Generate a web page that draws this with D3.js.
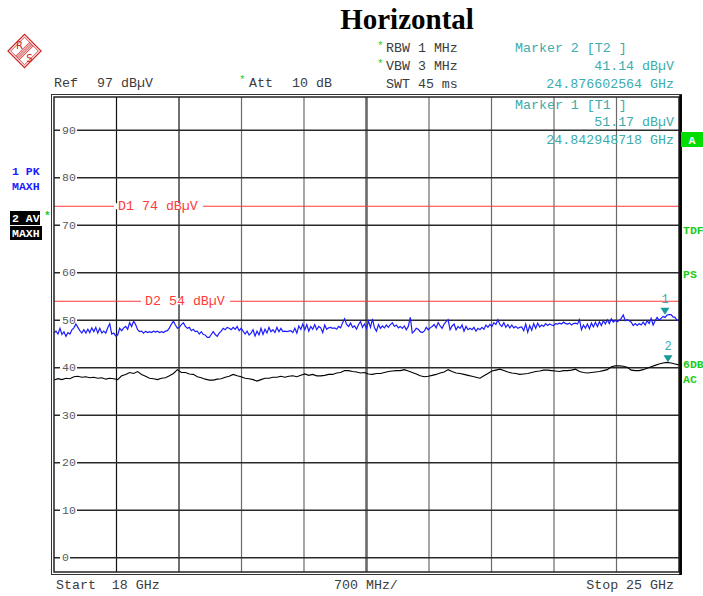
<!DOCTYPE html>
<html>
<head>
<meta charset="utf-8">
<script src="https://cdn.jsdelivr.net/npm/d3@7"></script>
<style>
body { margin: 0; background: #fff; }
svg text { font-family: "Liberation Mono", "DejaVu Sans Mono", monospace; }
</style>
</head>
<body>
<div class="container"></div>
<script>
const WIDTH = 703;
const HEIGHT = 596;
const LEFT = 54, RIGHT = 679, TOP = 97, BOTTOM = 572;

// sweep and level range of the screen
const START_GHZ = 18;
const STOP_GHZ = 25;
const REF_LEVEL = 97;
const BOTTOM_LEVEL = -3;

var gridLevels = [0, 10, 20, 30, 40, 50, 60, 70, 80, 90];
var gridDivisions = [0, 1, 2, 3, 4, 5, 6, 7, 8, 9, 10];

var limitNames = ['D1', 'D2'];
var limitLevels = [74, 54];

var markerNames = ['1', '2'];
var markerFreqs = [24.842948718, 24.876602564];
var markerLevels = [51.17, 41.14];

// trace 1 : peak, max hold (dBµV), evenly spread from start to stop
var pkTrace = [
    47.3, 47.7, 47.1, 48.3, 47.0, 47.6, 46.6, 47.4, 47.1, 48.0, 48.4, 49.2, 48.5, 47.8, 47.3, 48.0,
    47.3, 48.1, 47.4, 48.4, 47.6, 48.5, 47.3, 48.3, 47.3, 47.7, 47.3, 48.4, 49.3, 47.1, 47.3, 46.7,
    46.9, 48.3, 47.8, 48.4, 48.7, 48.1, 49.5, 48.7, 49.8, 49.1, 48.0, 47.6, 47.7, 47.3, 47.7, 47.4,
    47.6, 47.4, 47.7, 47.5, 47.7, 47.4, 47.6, 47.4, 47.7, 47.8, 48.4, 49.2, 49.8, 49.0, 48.3, 48.5,
    49.1, 49.5, 48.7, 48.3, 48.5, 47.8, 48.1, 47.6, 47.7, 47.1, 47.6, 47.0, 46.9, 46.4, 46.4,
    47.0, 47.6, 47.0, 46.6, 47.3, 47.7, 48.3, 48.0, 48.5, 48.3, 48.0, 48.5, 48.1, 48.7, 47.8, 48.3,
    47.7, 47.1, 47.7, 46.9, 47.3, 48.0, 46.7, 47.7, 46.9, 48.3, 47.0, 48.1, 47.3, 48.5, 47.6, 48.0,
    47.4, 48.5, 47.6, 48.3, 47.6, 47.7, 47.6, 47.7, 47.8, 47.4, 48.3, 47.3, 48.8, 48.1, 49.2, 48.0,
    49.1, 47.7, 48.7, 48.1, 49.1, 48.0, 48.7, 48.4, 47.4, 49.0, 48.1, 48.4, 48.5, 48.3, 48.4, 48.1,
    48.7, 48.4, 49.5, 50.3, 49.1, 48.7, 49.4, 48.5, 48.8, 48.1, 49.1, 49.7, 48.5,
    49.2, 48.3, 49.8, 48.5, 50.3, 48.4, 47.7, 49.1, 48.3, 48.8, 48.4, 49.0, 48.5, 49.1, 49.5, 48.7,
    49.0, 48.4, 48.7, 48.3, 48.8, 48.0, 48.7, 50.6, 47.3, 47.7, 48.3, 48.1, 47.6, 47.4, 47.7, 48.5,
    48.0, 48.4, 48.7, 49.1, 48.4, 49.5, 48.8, 48.3, 49.2, 49.7, 50.1, 48.0, 48.8, 49.2, 48.0, 48.7,
    48.3, 49.0, 47.7, 48.7, 48.0, 48.3, 48.0, 48.5, 47.7, 48.3, 48.0, 48.5, 48.1, 49.0, 48.5, 49.1,
    48.7, 49.5, 49.1, 50.1, 49.1, 48.7, 49.5, 48.5, 49.1, 48.4, 49.0, 48.4, 48.7, 48.3, 48.5,
    48.6, 47.8, 49.2, 47.5, 48.9, 47.9, 49.3, 48.3, 49.4, 48.6, 49.0, 48.7, 49.3, 48.9, 49.2, 49.0,
    48.9, 49.3, 49.2, 49.4, 49.2, 49.6, 49.3, 49.2, 49.4, 49.0, 49.3, 49.4, 49.2, 50.1, 48.0, 49.0,
    48.3, 49.2, 48.2, 49.4, 48.6, 49.6, 48.7, 49.7, 48.9, 49.9, 49.2, 50.1, 49.3, 50.3, 49.6, 50.0,
    49.7, 50.0, 50.4, 51.1, 49.9, 50.1, 49.9, 49.6, 48.9, 49.3, 48.9, 49.3, 49.0, 49.6, 49.0, 49.9,
    49.3, 50.4, 49.0, 49.9, 50.6, 50.0, 50.4, 50.8, 50.6, 51.1, 51.17, 51.2, 50.7, 50.6, 50.0, 50.1
];

// trace 2 : average, max hold (dBµV)
var avTrace = [
    37.4, 37.7, 37.5, 37.8, 37.7, 38.1, 38.2, 38.0, 38.1, 37.9, 38.0, 37.8, 37.9, 37.6, 37.8, 37.7,
    37.5, 38.3, 38.6, 39.0, 38.8, 39.2, 38.6, 38.2, 37.8, 37.7, 37.5, 37.8, 37.9, 38.3, 38.8, 39.6,
    39.0, 39.0, 38.7, 38.6, 38.1, 37.9, 37.6, 37.4,
    37.4, 37.6, 37.7, 38.0, 38.2, 38.6, 38.3, 38.1, 37.8, 37.7, 37.5, 37.2, 37.5, 37.8, 37.8, 38.0,
    38.0, 38.2, 38.0, 38.2, 38.3, 38.1, 38.4, 38.7, 38.4, 38.6, 38.3, 38.3, 38.4, 38.6, 38.6, 38.9,
    39.0, 39.4, 39.4, 39.2, 39.1, 38.9, 39.0,
    38.7, 38.6, 38.8, 38.8, 39.0, 39.2, 39.3, 39.4, 39.4, 39.6, 39.3, 39.0, 38.7, 38.3, 38.1, 38.2,
    38.4, 38.6, 38.9, 39.1, 39.6, 39.2, 38.9, 38.8, 38.6, 38.4, 38.2, 38.0, 37.8, 38.3, 38.8, 39.3,
    39.5, 39.7, 39.4, 39.1, 38.9, 38.8, 38.6,
    38.7, 38.8, 39.0, 39.2, 39.3, 39.5, 39.5, 39.4, 39.3, 39.2, 39.4, 39.4, 39.5, 39.7, 39.2, 39.0,
    38.9, 39.0, 39.1, 39.2, 39.4, 39.6, 40.2, 40.4, 40.4, 40.3, 40.1, 39.5, 39.4, 39.4, 39.6, 39.9,
    40.2, 40.5, 40.8, 41.0, 41.14, 41.0, 40.8, 40.6
];

const GREY = '#3c3c3c';
const TEAL = '#3aacac';
const GREEN = '#22cc22';
const RED = '#ff3a3a';

var freqOf = function(i, n) {
    return START_GHZ + i * (STOP_GHZ - START_GHZ) / (n - 1);
};

var addText = function(g, x, y, str, color, size, anchor) {
    return g.append('text')
        .attr('x', x)
        .attr('y', y)
        .attr('fill', color)
        .attr('font-size', size)
        .attr('text-anchor', anchor || 'start')
        .attr('dominant-baseline', 'central')
        .style('white-space', 'pre')
        .text(str);
};

var drawLogo = function(svg) {
    var g = svg.append('g').attr('transform', 'translate(24.5,51) rotate(45)');
    g.append('rect').attr('x', -11.7).attr('y', -11.7).attr('width', 23.4).attr('height', 23.4)
        .attr('fill', 'none').attr('stroke', '#cc2222').attr('stroke-width', 1.2);
    g.append('rect').attr('x', -9.8).attr('y', -9.8).attr('width', 19.6).attr('height', 19.6)
        .attr('fill', 'none').attr('stroke', '#cc2222').attr('stroke-width', 0.8);
    [-2.6, -1.3, 0, 1.3, 2.6].forEach(function(d) {
        g.append('line').attr('x1', d).attr('x2', d).attr('y1', -9.8).attr('y2', 9.8)
            .attr('stroke', '#cc2222').attr('stroke-width', 0.8);
    });
    var t = svg.append('g');
    t.append('text').attr('x', 19.5).attr('y', 49).attr('font-size', 10).attr('fill', '#cc2222')
        .style('font-family', 'DejaVu Sans').attr('text-anchor', 'middle').text('R');
    t.append('text').attr('x', 29.5).attr('y', 62).attr('font-size', 10).attr('fill', '#cc2222')
        .style('font-family', 'DejaVu Sans').attr('text-anchor', 'middle').text('S');
};

var fillLayout = function() {
    var svg = d3.select('.container').append('svg')
        .attr('width', WIDTH)
        .attr('height', HEIGHT)
        .style('display', 'block');

    svg.append('rect').attr('width', WIDTH).attr('height', HEIGHT).attr('fill', '#fff');

    let xScale = d3.scaleLinear()
        .domain([START_GHZ, STOP_GHZ])
        .range([LEFT, RIGHT]);

    let yScale = d3.scaleLinear()
        .domain([BOTTOM_LEVEL, REF_LEVEL])
        .range([BOTTOM, TOP]);

    // title and logo
    svg.append('text')
        .attr('x', 407).attr('y', 29)
        .attr('text-anchor', 'middle')
        .attr('font-size', 29)
        .attr('font-weight', 'bold')
        .style('font-family', '"Liberation Serif", "DejaVu Serif", serif')
        .text('Horizontal');
    drawLogo(svg);

    // header settings
    var head = svg.append('g');
    addText(head, 54, 83, 'Ref', GREY, 13.3);
    addText(head, 97, 83, '97 dBµV', GREY, 13.3);
    addText(head, 239, 80, '*', GREEN, 11);
    addText(head, 249, 83, 'Att', GREY, 13.3);
    addText(head, 292, 83, '10 dB', GREY, 13.3);
    addText(head, 377, 46, '*', GREEN, 11);
    addText(head, 386, 48, 'RBW 1 MHz', GREY, 13.3);
    addText(head, 377, 64, '*', GREEN, 11);
    addText(head, 386, 66, 'VBW 3 MHz', GREY, 13.3);
    addText(head, 386, 84, 'SWT 45 ms', GREY, 13.3);

    // grid
    var grid = svg.append('g');
    grid.selectAll('line.v').data(gridDivisions.slice(1, 10)).enter()
        .append('line')
        .attr('x1', (d) => xScale(START_GHZ + d * 0.7))
        .attr('x2', (d) => xScale(START_GHZ + d * 0.7))
        .attr('y1', TOP).attr('y2', BOTTOM)
        .attr('stroke', (d) => d < 3 ? '#111' : '#6a6a6a')
        .attr('stroke-width', (d) => d === 5 ? 2.6 : 1.2);

    grid.selectAll('line.h').data(gridLevels).enter()
        .append('line')
        .attr('x1', LEFT).attr('x2', RIGHT)
        .attr('y1', (d) => yScale(d)).attr('y2', (d) => yScale(d))
        .attr('stroke', '#2a2a2a')
        .attr('stroke-width', 1.4);

    // level labels sit on the grid lines with a gap
    gridLevels.forEach(function(d) {
        var s = String(d);
        grid.append('rect')
            .attr('x', 60).attr('y', yScale(d) - 3)
            .attr('width', s.length * 7 + 3).attr('height', 6)
            .attr('fill', '#fff');
        addText(grid, 62, yScale(d), s, '#5a5a5a', 11.5);
    });

    // display lines
    var limits = svg.append('g');
    limitLevels.forEach(function(lv, i) {
        var lx = i === 0 ? 118 : 145;
        limits.append('line')
            .attr('x1', LEFT).attr('x2', RIGHT)
            .attr('y1', yScale(lv)).attr('y2', yScale(lv))
            .attr('stroke', RED).attr('stroke-width', 1.2);
        limits.append('rect')
            .attr('x', lx - 4).attr('y', yScale(lv) - 3)
            .attr('width', 89).attr('height', 6)
            .attr('fill', '#fff');
        addText(limits, lx, yScale(lv), limitNames[i] + ' ' + lv + ' dBµV', RED, 13.3);
    });

    // traces
    svg.append('clipPath').attr('id', 'plotClip')
        .append('rect').attr('x', LEFT).attr('y', TOP)
        .attr('width', RIGHT - LEFT).attr('height', BOTTOM - TOP);

    var pkLine = d3.line()
        .x((d, i) => xScale(freqOf(i, pkTrace.length)))
        .y((d) => yScale(d));
    var avLine = d3.line()
        .x((d, i) => xScale(freqOf(i, avTrace.length)))
        .y((d) => yScale(d));

    var traces = svg.append('g').attr('clip-path', 'url(#plotClip)');
    traces.append('path')
        .attr('d', avLine(avTrace))
        .attr('fill', 'none').attr('stroke', '#000').attr('stroke-width', 1.1);
    traces.append('path')
        .attr('d', pkLine(pkTrace))
        .attr('fill', 'none').attr('stroke', '#1c1cff').attr('stroke-width', 1.2);

    // frame
    var frame = svg.append('g').attr('fill', 'none');
    frame.append('rect').attr('x', 51.5).attr('y', 94.5)
        .attr('width', 630).attr('height', 480)
        .attr('stroke', '#333').attr('stroke-width', 1);
    frame.append('rect').attr('x', LEFT).attr('y', TOP)
        .attr('width', RIGHT - LEFT).attr('height', BOTTOM - TOP)
        .attr('stroke', '#222').attr('stroke-width', 1.5);
    frame.append('line').attr('x1', 680.5).attr('x2', 680.5).attr('y1', 95).attr('y2', 575)
        .attr('stroke', '#000').attr('stroke-width', 2.5);

    // markers
    var mk = svg.append('g');
    markerFreqs.forEach(function(f, i) {
        var mx = xScale(f), my = yScale(markerLevels[i]);
        mk.append('path')
            .attr('d', `M${mx - 4.5},${my - 7}L${mx + 4.5},${my - 7}L${mx},${my}Z`)
            .attr('fill', '#1a9a9a');
        addText(mk, mx, my - 15, markerNames[i], TEAL, 12, 'middle');
    });

    // marker readout, on top of the grid
    var info = svg.append('g');
    addText(info, 515, 48, 'Marker 2 [T2 ]', TEAL, 13.3);
    addText(info, 674, 66, markerLevels[1].toFixed(2) + ' dBµV', TEAL, 13.3, 'end');
    addText(info, 674, 84, markerFreqs[1].toFixed(9) + ' GHz', TEAL, 13.3, 'end');
    addText(info, 515, 105, 'Marker 1 [T1 ]', TEAL, 13.3);
    addText(info, 674, 122, markerLevels[0].toFixed(2) + ' dBµV', TEAL, 13.3, 'end');
    addText(info, 674, 140, markerFreqs[0].toFixed(9) + ' GHz', TEAL, 13.3, 'end');

    // trace labels on the left
    var side = svg.append('g').attr('font-weight', 'bold');
    addText(side, 12, 171, '1 PK', '#1c1cff', 11.5).attr('font-weight', 'bold');
    addText(side, 12, 186, 'MAXH', '#1c1cff', 11.5).attr('font-weight', 'bold');
    side.append('rect').attr('x', 10).attr('y', 211).attr('width', 30).attr('height', 14).attr('fill', '#000');
    side.append('rect').attr('x', 10).attr('y', 226).attr('width', 32).attr('height', 14).attr('fill', '#000');
    addText(side, 12, 218, '2 AV', '#fff', 11.5).attr('font-weight', 'bold');
    addText(side, 12, 233.5, 'MAXH', '#fff', 11.5).attr('font-weight', 'bold');
    addText(side, 44, 216, '*', GREEN, 11);

    // status labels on the right
    side.append('rect').attr('x', 681).attr('y', 132).attr('width', 22).attr('height', 15).attr('fill', '#00dd00');
    addText(side, 692, 140, 'A', '#fff', 11.5, 'middle').attr('font-weight', 'bold');
    addText(side, 683, 230, 'TDF', GREEN, 11.5).attr('font-weight', 'bold');
    addText(side, 683, 274, 'PS', GREEN, 11.5).attr('font-weight', 'bold');
    addText(side, 683, 364, '6DB', GREEN, 11.5).attr('font-weight', 'bold');
    addText(side, 683, 379, 'AC', GREEN, 11.5).attr('font-weight', 'bold');

    // sweep labels
    var foot = svg.append('g');
    addText(foot, 56, 585, 'Start  ' + START_GHZ + ' GHz', GREY, 13.3);
    addText(foot, 334, 585, ((STOP_GHZ - START_GHZ) / 10 * 1000) + ' MHz/', GREY, 13.3);
    addText(foot, 674, 585, 'Stop ' + STOP_GHZ + ' GHz', GREY, 13.3, 'end');
};
window.onload = fillLayout;
</script>
</body>
</html>
